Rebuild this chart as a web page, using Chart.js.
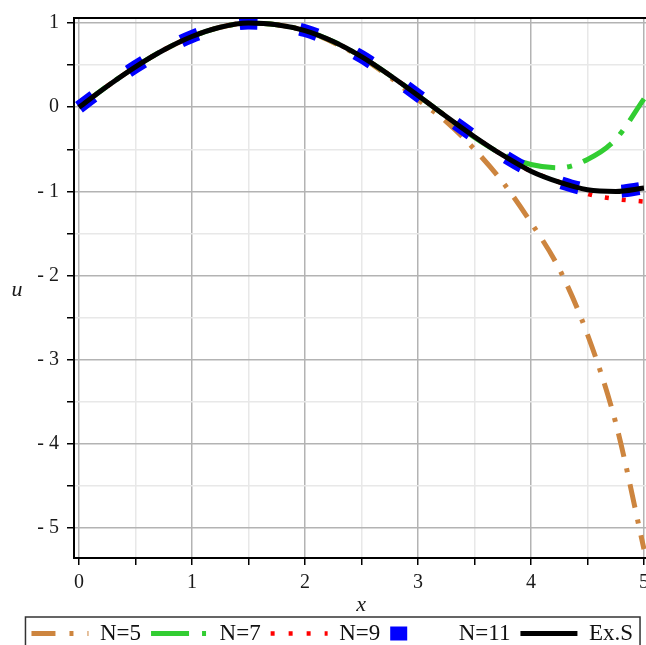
<!DOCTYPE html>
<html>
<head>
<meta charset="utf-8">
<script src="https://cdn.jsdelivr.net/npm/chart.js@4.4.1/dist/chart.umd.min.js"></script>
<style>
html, body { margin: 0; padding: 0; background: #fff; overflow: hidden; }
canvas { display: block; }
</style>
</head>
<body>
<canvas id="chart" width="660" height="655"></canvas>
<script>
// values
const xs    = [0, 0.25, 0.5, 0.75, 1, 1.25, 1.5, 1.75, 2, 2.25, 2.5, 2.75, 3, 3.25, 3.5, 3.75, 4, 4.25, 4.5, 4.75, 5];
const exact = [0, 0.25, 0.48, 0.68, 0.84, 0.95, 1.0, 0.98, 0.91, 0.78, 0.60, 0.38, 0.14, -0.11, -0.35, -0.57, -0.76, -0.89, -0.98, -1.0, -0.96];
const n5    = [0, 0.25, 0.48, 0.68, 0.84, 0.95, 1.0, 0.98, 0.91, 0.77, 0.59, 0.36, 0.09, -0.17, -0.50, -0.89, -1.37, -1.92, -2.70, -3.75, -5.25];
const n7    = [0, 0.25, 0.48, 0.68, 0.84, 0.95, 1.0, 0.98, 0.91, 0.78, 0.60, 0.38, 0.14, -0.11, -0.36, -0.56, -0.68, -0.72, -0.62, -0.38, 0.10];
const n9    = [0, 0.25, 0.48, 0.68, 0.84, 0.95, 1.0, 0.98, 0.91, 0.78, 0.60, 0.38, 0.14, -0.11, -0.35, -0.57, -0.76, -0.89, -1.03, -1.09, -1.12];
const n11   = [0, 0.25, 0.48, 0.68, 0.84, 0.95, 1.0, 0.98, 0.91, 0.78, 0.60, 0.38, 0.14, -0.11, -0.35, -0.57, -0.76, -0.89, -0.98, -1.0, -0.96];
const labels = ['N=5', 'N=7', 'N=9', 'N=11', 'Ex.S'];

const pts = ys => xs.map((x, i) => ({ x: x, y: ys[i] }));

const series = [
  { label: labels[0], data: pts(n5),    color: '#cd853f', width: 5,   dash: [24, 12, 4, 12], order: 5 },
  { label: labels[1], data: pts(n7),    color: '#32cd32', width: 5,   dash: [34, 12, 5, 12], order: 4 },
  { label: labels[2], data: pts(n9),    color: '#ff0000', width: 4.5, dash: [4, 13], order: 3 },
  { label: labels[3], data: pts(n11),   color: '#0000ff', width: 13,  dash: [18, 43], order: 2 },
  { label: labels[4], data: pts(exact), color: '#000000', width: 5,   dash: [], order: 1 }
];

const legendDash = [[24, 14, 4, 14], [38, 13, 4, 13], [4, 14], [17, 100], []];
const legendWidth = [5, 5, 4.5, 14, 5];

Chart.defaults.font.family = "'Liberation Serif', 'Times New Roman', serif";
Chart.defaults.color = '#1a1a1a';

const isMajor = v => Math.abs(v - Math.round(v)) < 1e-9;

const extras = {
  id: 'extras',
  afterDraw(chart) {
    const { ctx, chartArea: a, legend } = chart;
    ctx.save();
    ctx.strokeStyle = '#000';
    ctx.lineWidth = 2;
    ctx.beginPath();
    ctx.moveTo(a.left, a.top);
    ctx.lineTo(a.right, a.top);
    ctx.stroke();

    const boxes = legend.legendHitBoxes;
    const first = boxes[0], last = boxes[boxes.length - 1];
    ctx.lineWidth = 1.5;
    ctx.strokeStyle = '#333';
    ctx.strokeRect(first.left - 6, legend.top + 5, last.left + last.width - first.left + 13, chart.height);

    ctx.fillStyle = '#1a1a1a';
    ctx.font = "italic 22px 'Liberation Serif'";
    ctx.textAlign = 'center';
    ctx.textBaseline = 'middle';
    ctx.fillText('u', 17, (a.top + a.bottom) / 2 + 2);
    ctx.restore();
  }
};

new Chart(document.getElementById('chart'), {
  type: 'line',
  data: {
    datasets: series.map(s => ({
      label: s.label,
      data: s.data,
      borderColor: s.color,
      backgroundColor: s.color,
      borderWidth: s.width,
      borderDash: s.dash,
      borderCapStyle: 'butt',
      pointRadius: 0,
      cubicInterpolationMode: 'monotone',
      order: s.order
    }))
  },
  options: {
    responsive: false,
    animation: false,
    devicePixelRatio: 1,
    layout: { padding: { top: 16, left: 16, right: 11.5, bottom: 0 } },
    scales: {
      x: {
        type: 'linear',
        min: -0.044,
        max: 5.04,
        afterFit: s => { s.height = 54; },
        ticks: {
          stepSize: 0.5,
          includeBounds: false,
          autoSkip: false,
          maxRotation: 0,
          padding: 8,
          font: { size: 20, lineHeight: 1 },
          callback: v => isMajor(v) ? String(Math.round(v)) : ''
        },
        grid: {
          color: c => isMajor(c.tick.value) ? '#b3b3b3' : '#e8e8e8',
          lineWidth: 1.5,
          tickLength: 7,
          tickColor: '#000',
          tickWidth: 1.5
        },
        border: { color: '#000', width: 2 },
        title: {
          display: true,
          text: 'x',
          font: { size: 22, style: 'italic', lineHeight: 0.6 },
          padding: { top: 0, bottom: 0 }
        }
      },
      y: {
        min: -5.355,
        max: 1.06,
        afterFit: s => { s.width = 58; },
        ticks: {
          stepSize: 0.5,
          includeBounds: false,
          autoSkip: false,
          padding: 8,
          font: { size: 20, lineHeight: 1 },
          callback: v => {
            if (!isMajor(v)) return '';
            const r = Math.round(v);
            return r < 0 ? '- ' + Math.abs(r) : String(r);
          }
        },
        grid: {
          color: c => isMajor(c.tick.value) ? '#b3b3b3' : '#e8e8e8',
          lineWidth: 1.5,
          tickLength: 7,
          tickColor: '#000',
          tickWidth: 1.5
        },
        border: { color: '#000', width: 2 }
      }
    },
    plugins: {
      tooltip: { enabled: false },
      legend: {
        position: 'bottom',
        labels: {
          usePointStyle: true,
          pointStyleWidth: 57,
          padding: 10,
          color: '#111',
          font: { size: 23 },
          generateLabels: chart => series.map((s, i) => ({
            text: s.label,
            datasetIndex: i,
            strokeStyle: s.color,
            fillStyle: s.color,
            lineWidth: legendWidth[i],
            lineDash: legendDash[i],
            lineCap: 'butt',
            pointStyle: 'line',
            rotation: 180,
            fontColor: '#111'
          }))
        }
      }
    }
  },
  plugins: [extras]
});
</script>
</body>
</html>
